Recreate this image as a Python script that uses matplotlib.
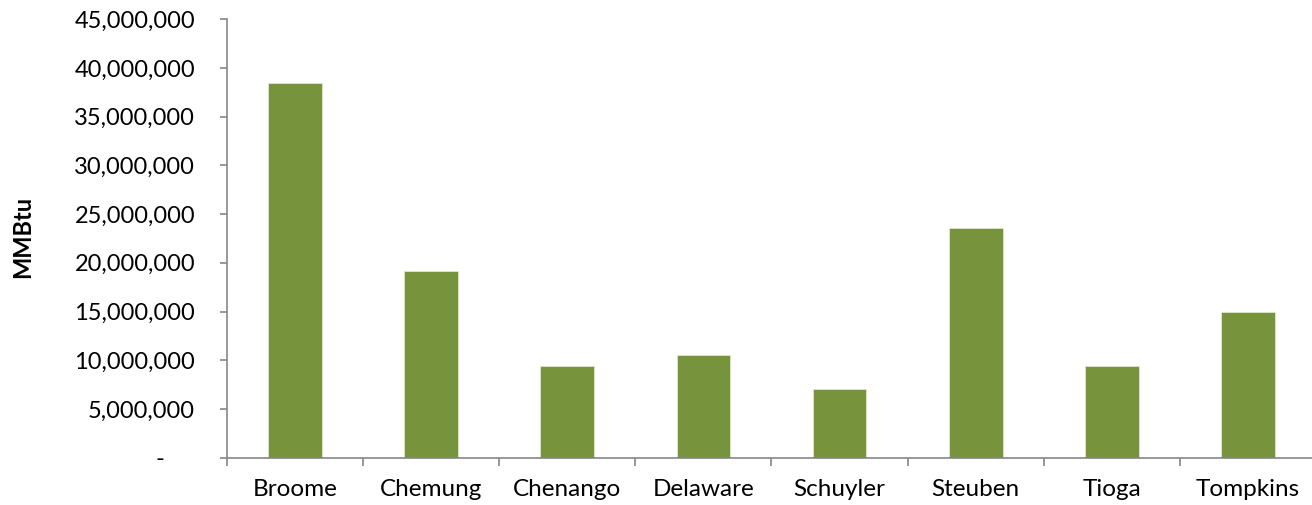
import matplotlib
matplotlib.use('Agg')
import matplotlib.pyplot as plt
from matplotlib.ticker import FuncFormatter
import numpy as np

counties = ['Broome', 'Chemung', 'Chenango', 'Delaware', 'Schuyler', 'Steuben', 'Tioga', 'Tompkins']
mmbtu = [38_500_000, 19_130_000, 9_410_000, 10_510_000, 7_050_000, 23_610_000, 9_410_000, 14_990_000]
y_ticks = list(range(0, 45_000_001, 5_000_000))

BAR_COLOR = '#77933C'
AXIS_COLOR = '#868686'

plt.rcParams['font.family'] = ['Lato', 'DejaVu Sans']

fig = plt.figure(figsize=(13.12, 5.05), dpi=100)
# plot area runs slightly past the right edge, like the source sheet
ax = fig.add_axes([0.173, 0.0937, 0.830, 0.8681])

x = np.arange(len(counties))
ax.bar(x, mmbtu, width=0.395, color=BAR_COLOR, edgecolor='#dfe8cf', linewidth=0.6)

ax.set_xlim(-0.5, len(counties) - 0.5)
ax.set_ylim(0, 45_000_000)


def accounting(v, pos):
    if v == 0:
        return '-     '
    return f'{int(v):,}'


ax.set_yticks(y_ticks)
ax.yaxis.set_major_formatter(FuncFormatter(accounting))

# category labels centred, tick marks on the boundaries
ax.set_xticks(x)
ax.set_xticklabels(counties)
ax.set_xticks(np.arange(-0.5, len(counties)), minor=True)

ax.tick_params(axis='x', which='major', length=0, pad=15, labelsize=17.5, colors='black')
ax.tick_params(axis='x', which='minor', length=6, width=1.2, color=AXIS_COLOR)
ax.tick_params(axis='y', length=5, width=1.2, color=AXIS_COLOR, pad=18, labelsize=17)

for side in ['top', 'right']:
    ax.spines[side].set_visible(False)
for side in ['left', 'bottom']:
    ax.spines[side].set_color(AXIS_COLOR)
    ax.spines[side].set_linewidth(1.2)

fig.text(0.017, 0.53, 'MMBtu', rotation=90, ha='center', va='center',
         fontsize=17, fontweight='bold')

fig.savefig('out.png', dpi=100)
